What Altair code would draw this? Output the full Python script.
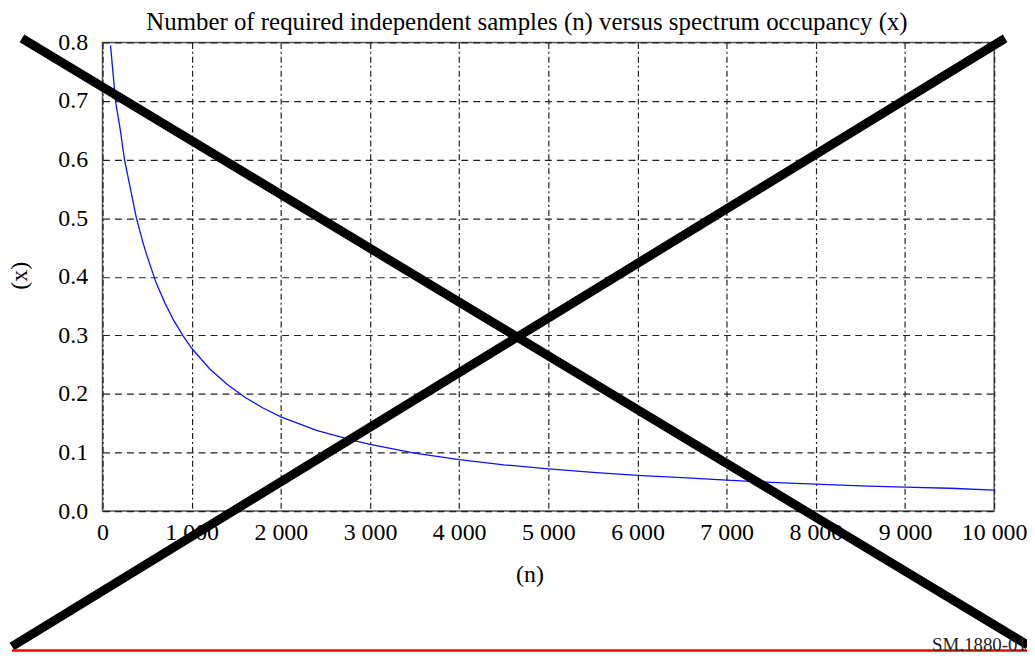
import altair as alt
import pandas as pd

# Curve: number of samples (n) vs occupancy (x)
n_samples = [90, 145, 200, 246, 300, 380, 450, 500, 600, 700, 800, 900, 1000,
             1200, 1400, 1600, 1800, 2000, 2400, 2800, 3000, 3500, 4000, 4500,
             5000, 5500, 6000, 6500, 7000, 7500, 8000, 8500, 9000, 9500, 10000]
occupancy = [0.795, 0.70, 0.65, 0.60, 0.56, 0.50, 0.46, 0.435, 0.39, 0.355, 0.325,
             0.30, 0.278, 0.243, 0.216, 0.194, 0.176, 0.161, 0.138, 0.121, 0.114,
             0.099, 0.088, 0.079, 0.072, 0.066, 0.061, 0.057, 0.053, 0.049, 0.046,
             0.043, 0.041, 0.039, 0.036]

x_ticks = [0, 1000, 2000, 3000, 4000, 5000, 6000, 7000, 8000, 9000, 10000]
y_ticks = [0.0, 0.1, 0.2, 0.3, 0.4, 0.5, 0.6, 0.7, 0.8]

# Big cross drawn over the figure (in data units)
cross_seg = ["a", "a", "b", "b"]
cross_n = [-904, 10379, -1016, 10123]
cross_v = [0.807, -0.229, -0.231, 0.807]

# Red bottom rule, figure reference label and heading (in data units)
base_n = [-1016]
base_n2 = [10420]
base_v = [-0.238]
label_text = ["SM.1880-01"]
label_n = [10368]
label_v = [-0.2385]
title_text = ["Number of required independent samples (n) versus spectrum occupancy (x)"]
title_n = [4760]
title_v = [0.822]

FONT = "Liberation Serif"
FS = 24

curve_df = pd.DataFrame({"n": n_samples, "v": occupancy})
cross_df = pd.DataFrame({"seg": cross_seg, "n": cross_n, "v": cross_v})
base_df = pd.DataFrame({"n": base_n, "n2": base_n2, "v": base_v})
label_df = pd.DataFrame({"t": label_text, "n": label_n, "v": label_v})
title_df = pd.DataFrame({"t": title_text, "n": title_n, "v": title_v})

xs = alt.Scale(domain=[0, 10000], nice=False, zero=False)
ys = alt.Scale(domain=[0, 0.8], nice=False, zero=False)

x_axis = alt.Axis(
    values=x_ticks,
    labelExpr="replace(format(datum.value, ','), ',', ' ')",
    title="(n)",
    titleFont=FONT, titleFontSize=FS, titleFontWeight="normal", titleColor="black",
    titleX=429, titleY=71, titleBaseline="alphabetic", titleAnchor="start", titleAlign="center",
    labelFont=FONT, labelFontSize=FS, labelColor="black", labelPadding=10,
    labelOverlap=False, labelFlush=False,
    ticks=False, domain=False,
    grid=True, gridColor="#222", gridDash=[6, 3, 2, 3], gridWidth=1.2, gridOpacity=1,
)
y_axis = alt.Axis(
    values=y_ticks,
    format=".1f",
    title="(x)",
    titleFont=FONT, titleFontSize=FS, titleFontWeight="normal", titleColor="black",
    titleX=-76, titleY=234, titleAngle=-90, titleBaseline="alphabetic", titleAlign="center",
    labelFont=FONT, labelFontSize=FS, labelColor="black", labelPadding=15,
    labelOverlap=False, labelFlush=False,
    ticks=False, domain=False,
    grid=True, gridColor="#222", gridDash=[7, 5], gridWidth=1.2, gridOpacity=1,
)

X = alt.X("n:Q", scale=xs, axis=x_axis)
Y = alt.Y("v:Q", scale=ys, axis=y_axis)

curve = alt.Chart(curve_df).mark_line(color="#1010ff", strokeWidth=1.3).encode(x=X, y=Y)

cross = alt.Chart(cross_df).mark_line(color="black", strokeWidth=9, clip=False, strokeCap="butt").encode(
    x=X, y=Y, detail="seg:N"
)

base = alt.Chart(base_df).mark_rule(color="#ff0000", strokeWidth=2.5, clip=False).encode(
    x=X, x2="n2:Q", y=Y
)

label = alt.Chart(label_df).mark_text(
    font=FONT, fontSize=19, color="#222", align="right", baseline="alphabetic", clip=False
).encode(x=X, y=Y, text="t:N")

heading = alt.Chart(title_df).mark_text(
    font=FONT, fontSize=25, color="black", align="center", baseline="alphabetic", clip=False
).encode(x=X, y=Y, text="t:N")

chart = alt.layer(curve, cross, base, label, heading).properties(
    width=896,
    height=471,
    padding={"left": 95, "top": 33, "right": 33, "bottom": 142},
    autosize=alt.AutoSizeParams(type="none"),
).configure_view(stroke="#555", strokeWidth=1.5)

chart.save("out.html", embed_options={"renderer": "svg", "actions": False})
